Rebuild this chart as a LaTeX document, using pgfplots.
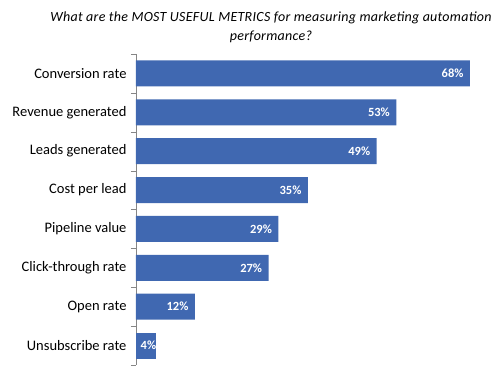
\documentclass[border=0pt]{standalone}
\usepackage{pgfplots}
\pgfplotsset{compat=1.18}
\usepackage{fontspec}
\setmainfont{Carlito}
\definecolor{barblue}{RGB}{64,104,177}
\definecolor{axgray}{RGB}{134,134,134}
\begin{document}
\begin{tikzpicture}[x=1pt,y=1pt]
\path[use as bounding box] (-136,-9) rectangle (359,365);
\begin{axis}[
  at={(0,0)}, anchor=south west,
  scale only axis, width=334pt, height=311pt,
  xbar, bar width=26pt, bar shift=0pt,
  xmin=0, xmax=68,
  ymin=-0.5, ymax=7.5, y dir=reverse,
  axis x line=none,
  axis y line=left,
  axis line style={draw=axgray,-},
  ytick={0,...,7},
  yticklabels={Conversion rate,Revenue generated,Leads generated,Cost per lead,Pipeline value,Click-through rate,Open rate,Unsubscribe rate},
  major tick length=0pt,
  tick align=outside,
  extra y ticks={-0.5,0.5,1.5,2.5,3.5,4.5,5.5,6.5,7.5},
  extra y tick labels={},
  extra y tick style={major tick length=5pt, tick style={draw=axgray}},
  yticklabel style={font=\fontsize{14.5}{16}\selectfont, xshift=-6pt},
  /pgf/number format/assume math mode=true,
  nodes near coords={\pgfmathprintnumber{\pgfplotspointmeta}\%},
  nodes near coords style={text=white, font=\fontsize{12.5}{14}\selectfont\bfseries},
  clip=false,
]
\addplot[fill=barblue, draw=none, nodes near coords style={anchor=east, xshift=-3pt}] coordinates {
(68,0) (53,1) (49,2) (35,3) (29,4) (27,5) (12,6)};
\addplot[fill=barblue, draw=none, nodes near coords style={anchor=east, xshift=4pt}] coordinates {
(4,7)};
\end{axis}
\node[align=center, font=\fontsize{14}{19}\selectfont\itshape\addfontfeature{LetterSpace=2}] at (135,338) {What are the MOST USEFUL METRICS for measuring marketing automation\\performance?};
\end{tikzpicture}
\end{document}
